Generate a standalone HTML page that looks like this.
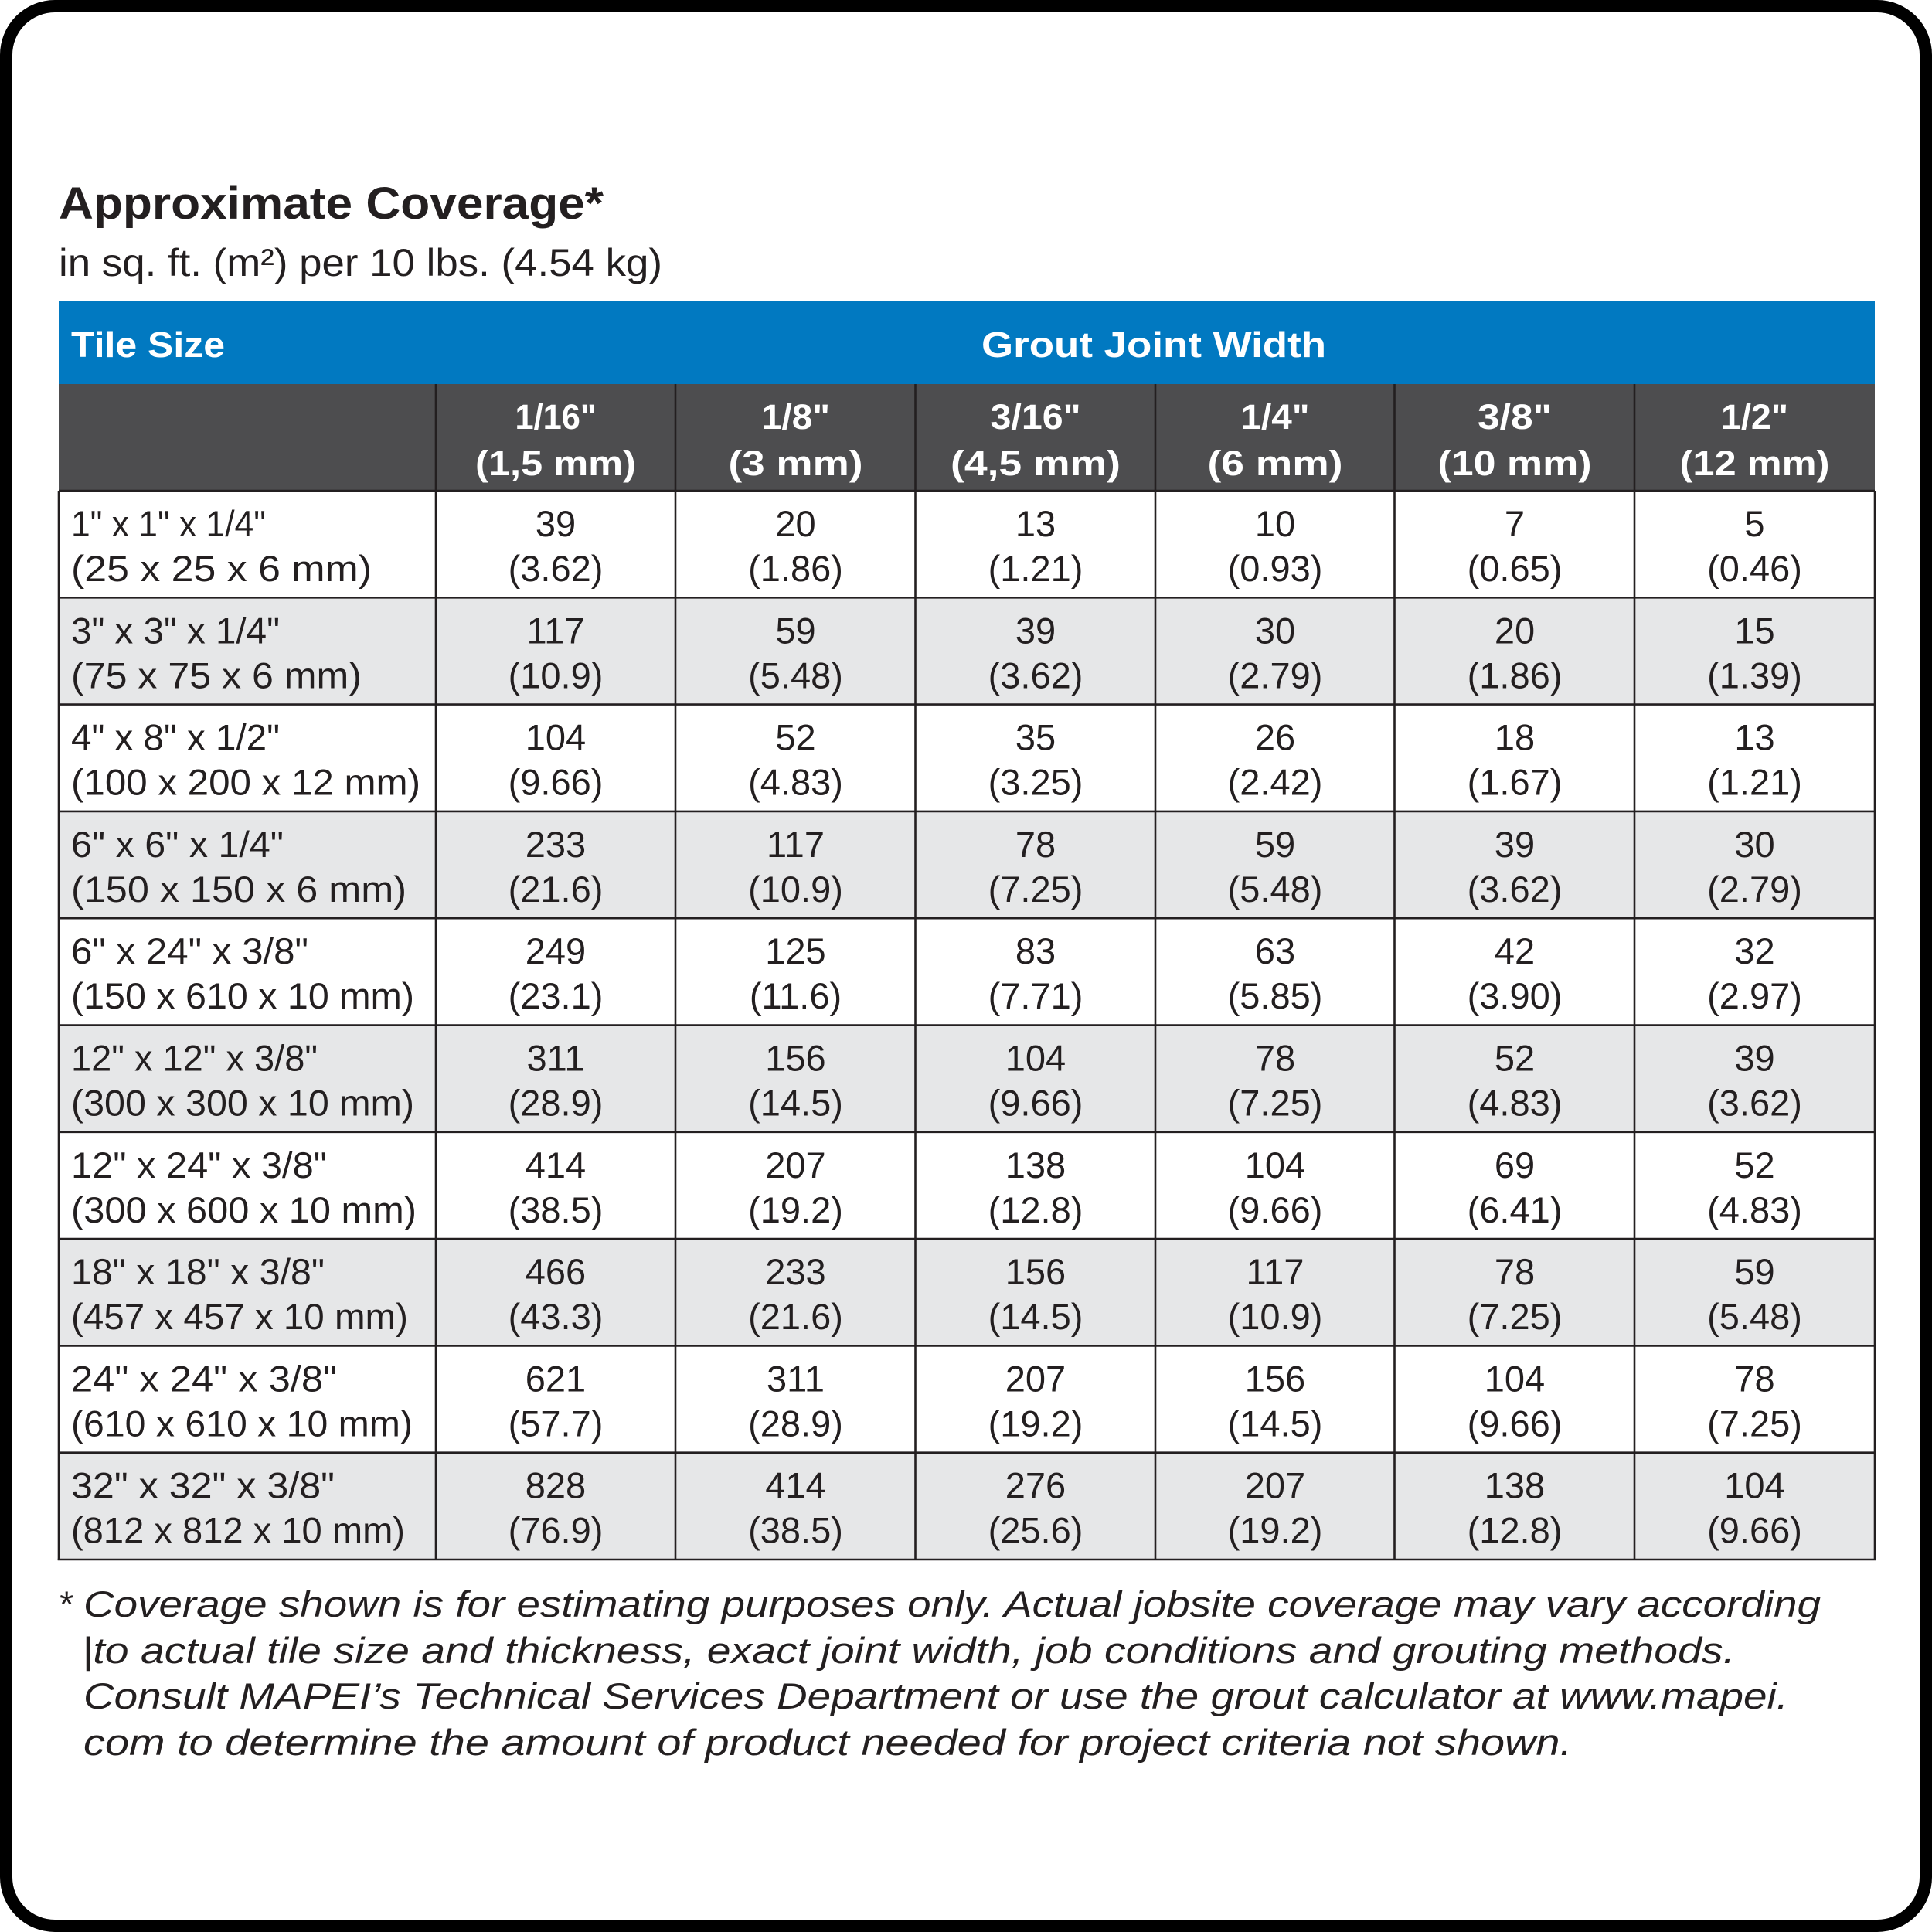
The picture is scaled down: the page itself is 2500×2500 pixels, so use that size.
<!DOCTYPE html>
<html>
<head>
<meta charset="utf-8">
<style>
html,body{margin:0;padding:0;background:#fff;}
svg{display:block;}
text{font-family:"Liberation Sans",Arial,sans-serif;fill:#231F20;}
.w{fill:#fff;font-weight:700;}
.v{font-size:47px;text-anchor:middle;}
.l{font-size:47px;}
.h{font-size:45px;text-anchor:middle;fill:#fff;font-weight:700;}
.f{font-size:47px;font-style:italic;}
</style>
</head>
<body>
<svg width="2500" height="2500" viewBox="0 0 2500 2500" xmlns="http://www.w3.org/2000/svg">
<rect x="0" y="0" width="2500" height="2500" fill="#fff"/>
<rect x="8" y="8" width="2484" height="2484" rx="63" ry="63" fill="none" stroke="#000" stroke-width="16"/>

<text x="76" y="283" style="font-size:58px;font-weight:700" textLength="705" lengthAdjust="spacingAndGlyphs">Approximate Coverage*</text>
<text x="76" y="357" style="font-size:50px" textLength="781" lengthAdjust="spacingAndGlyphs">in sq. ft. (m²) per 10 lbs. (4.54 kg)</text>

<!-- blue header -->
<rect x="76" y="390" width="2350" height="107" fill="#0179C1"/>
<text x="92" y="462" class="w" style="font-size:46px" textLength="199" lengthAdjust="spacingAndGlyphs">Tile Size</text>
<text x="1270" y="462" class="w" style="font-size:46px" textLength="446" lengthAdjust="spacingAndGlyphs">Grout Joint Width</text>

<!-- dark header -->
<rect x="76" y="497" width="2350" height="138" fill="#4D4D4F"/>
<text class="h" x="719" y="555" textLength="105" lengthAdjust="spacingAndGlyphs">1/16"</text>
<text class="h" x="719" y="615" textLength="208" lengthAdjust="spacingAndGlyphs">(1,5 mm)</text>
<text class="h" x="1029.5" y="555" textLength="89" lengthAdjust="spacingAndGlyphs">1/8"</text>
<text class="h" x="1029.5" y="615" textLength="174" lengthAdjust="spacingAndGlyphs">(3 mm)</text>
<text class="h" x="1340" y="555" textLength="117" lengthAdjust="spacingAndGlyphs">3/16"</text>
<text class="h" x="1340" y="615" textLength="220" lengthAdjust="spacingAndGlyphs">(4,5 mm)</text>
<text class="h" x="1650" y="555" textLength="89" lengthAdjust="spacingAndGlyphs">1/4"</text>
<text class="h" x="1650" y="615" textLength="175" lengthAdjust="spacingAndGlyphs">(6 mm)</text>
<text class="h" x="1960" y="555" textLength="96" lengthAdjust="spacingAndGlyphs">3/8"</text>
<text class="h" x="1960" y="615" textLength="199" lengthAdjust="spacingAndGlyphs">(10 mm)</text>
<text class="h" x="2270.5" y="555" textLength="87" lengthAdjust="spacingAndGlyphs">1/2"</text>
<text class="h" x="2270.5" y="615" textLength="194" lengthAdjust="spacingAndGlyphs">(12 mm)</text>

<!-- gray rows -->
<rect x="76" y="773.3" width="2350" height="138.3" fill="#E6E7E8"/>
<rect x="76" y="1049.9" width="2350" height="138.3" fill="#E6E7E8"/>
<rect x="76" y="1326.5" width="2350" height="138.3" fill="#E6E7E8"/>
<rect x="76" y="1603.1" width="2350" height="138.3" fill="#E6E7E8"/>
<rect x="76" y="1879.7" width="2350" height="138.3" fill="#E6E7E8"/>

<!-- grid lines -->
<g stroke="#231F20" stroke-width="2.6">
<line x1="76" y1="635" x2="2426" y2="635"/>
<line x1="76" y1="773.3" x2="2426" y2="773.3"/>
<line x1="76" y1="911.6" x2="2426" y2="911.6"/>
<line x1="76" y1="1049.9" x2="2426" y2="1049.9"/>
<line x1="76" y1="1188.2" x2="2426" y2="1188.2"/>
<line x1="76" y1="1326.5" x2="2426" y2="1326.5"/>
<line x1="76" y1="1464.8" x2="2426" y2="1464.8"/>
<line x1="76" y1="1603.1" x2="2426" y2="1603.1"/>
<line x1="76" y1="1741.4" x2="2426" y2="1741.4"/>
<line x1="76" y1="1879.7" x2="2426" y2="1879.7"/>
<line x1="74.7" y1="2018" x2="2427.3" y2="2018"/>
<line x1="76" y1="635" x2="76" y2="2018"/>
<line x1="2426" y1="635" x2="2426" y2="2018"/>
<line x1="564" y1="497" x2="564" y2="2018"/>
<line x1="874" y1="497" x2="874" y2="2018"/>
<line x1="1184.5" y1="497" x2="1184.5" y2="2018"/>
<line x1="1495" y1="497" x2="1495" y2="2018"/>
<line x1="1804.5" y1="497" x2="1804.5" y2="2018"/>
<line x1="2115" y1="497" x2="2115" y2="2018"/>
</g>

<!-- row labels -->
<text class="l" x="92" y="694" textLength="252" lengthAdjust="spacingAndGlyphs">1" x 1" x 1/4"</text>
<text class="l" x="92" y="752" textLength="389" lengthAdjust="spacingAndGlyphs">(25 x 25 x 6 mm)</text>
<text class="l" x="92" y="832.3" textLength="270" lengthAdjust="spacingAndGlyphs">3" x 3" x 1/4"</text>
<text class="l" x="92" y="890.3" textLength="376" lengthAdjust="spacingAndGlyphs">(75 x 75 x 6 mm)</text>
<text class="l" x="92" y="970.6" textLength="270" lengthAdjust="spacingAndGlyphs">4" x 8" x 1/2"</text>
<text class="l" x="92" y="1028.6" textLength="452" lengthAdjust="spacingAndGlyphs">(100 x 200 x 12 mm)</text>
<text class="l" x="92" y="1108.9" textLength="275" lengthAdjust="spacingAndGlyphs">6" x 6" x 1/4"</text>
<text class="l" x="92" y="1166.9" textLength="434" lengthAdjust="spacingAndGlyphs">(150 x 150 x 6 mm)</text>
<text class="l" x="92" y="1247.2" textLength="307" lengthAdjust="spacingAndGlyphs">6" x 24" x 3/8"</text>
<text class="l" x="92" y="1305.2" textLength="444" lengthAdjust="spacingAndGlyphs">(150 x 610 x 10 mm)</text>
<text class="l" x="92" y="1385.5" textLength="319" lengthAdjust="spacingAndGlyphs">12" x 12" x 3/8"</text>
<text class="l" x="92" y="1443.5" textLength="444" lengthAdjust="spacingAndGlyphs">(300 x 300 x 10 mm)</text>
<text class="l" x="92" y="1523.8" textLength="331" lengthAdjust="spacingAndGlyphs">12" x 24" x 3/8"</text>
<text class="l" x="92" y="1581.8" textLength="447" lengthAdjust="spacingAndGlyphs">(300 x 600 x 10 mm)</text>
<text class="l" x="92" y="1662.1" textLength="328" lengthAdjust="spacingAndGlyphs">18" x 18" x 3/8"</text>
<text class="l" x="92" y="1720.1" textLength="436" lengthAdjust="spacingAndGlyphs">(457 x 457 x 10 mm)</text>
<text class="l" x="92" y="1800.4" textLength="344" lengthAdjust="spacingAndGlyphs">24" x 24" x 3/8"</text>
<text class="l" x="92" y="1858.4" textLength="442" lengthAdjust="spacingAndGlyphs">(610 x 610 x 10 mm)</text>
<text class="l" x="92" y="1938.7" textLength="341" lengthAdjust="spacingAndGlyphs">32" x 32" x 3/8"</text>
<text class="l" x="92" y="1996.7" textLength="432" lengthAdjust="spacingAndGlyphs">(812 x 812 x 10 mm)</text>

<!-- values row 1 -->
<text class="v" x="719" y="694">39</text><text class="v" x="719" y="752">(3.62)</text>
<text class="v" x="1029.5" y="694">20</text><text class="v" x="1029.5" y="752">(1.86)</text>
<text class="v" x="1340" y="694">13</text><text class="v" x="1340" y="752">(1.21)</text>
<text class="v" x="1650" y="694">10</text><text class="v" x="1650" y="752">(0.93)</text>
<text class="v" x="1960" y="694">7</text><text class="v" x="1960" y="752">(0.65)</text>
<text class="v" x="2270.5" y="694">5</text><text class="v" x="2270.5" y="752">(0.46)</text>
<!-- row 2 -->
<text class="v" x="719" y="832.3">117</text><text class="v" x="719" y="890.3">(10.9)</text>
<text class="v" x="1029.5" y="832.3">59</text><text class="v" x="1029.5" y="890.3">(5.48)</text>
<text class="v" x="1340" y="832.3">39</text><text class="v" x="1340" y="890.3">(3.62)</text>
<text class="v" x="1650" y="832.3">30</text><text class="v" x="1650" y="890.3">(2.79)</text>
<text class="v" x="1960" y="832.3">20</text><text class="v" x="1960" y="890.3">(1.86)</text>
<text class="v" x="2270.5" y="832.3">15</text><text class="v" x="2270.5" y="890.3">(1.39)</text>
<!-- row 3 -->
<text class="v" x="719" y="970.6">104</text><text class="v" x="719" y="1028.6">(9.66)</text>
<text class="v" x="1029.5" y="970.6">52</text><text class="v" x="1029.5" y="1028.6">(4.83)</text>
<text class="v" x="1340" y="970.6">35</text><text class="v" x="1340" y="1028.6">(3.25)</text>
<text class="v" x="1650" y="970.6">26</text><text class="v" x="1650" y="1028.6">(2.42)</text>
<text class="v" x="1960" y="970.6">18</text><text class="v" x="1960" y="1028.6">(1.67)</text>
<text class="v" x="2270.5" y="970.6">13</text><text class="v" x="2270.5" y="1028.6">(1.21)</text>
<!-- row 4 -->
<text class="v" x="719" y="1108.9">233</text><text class="v" x="719" y="1166.9">(21.6)</text>
<text class="v" x="1029.5" y="1108.9">117</text><text class="v" x="1029.5" y="1166.9">(10.9)</text>
<text class="v" x="1340" y="1108.9">78</text><text class="v" x="1340" y="1166.9">(7.25)</text>
<text class="v" x="1650" y="1108.9">59</text><text class="v" x="1650" y="1166.9">(5.48)</text>
<text class="v" x="1960" y="1108.9">39</text><text class="v" x="1960" y="1166.9">(3.62)</text>
<text class="v" x="2270.5" y="1108.9">30</text><text class="v" x="2270.5" y="1166.9">(2.79)</text>
<!-- row 5 -->
<text class="v" x="719" y="1247.2">249</text><text class="v" x="719" y="1305.2">(23.1)</text>
<text class="v" x="1029.5" y="1247.2">125</text><text class="v" x="1029.5" y="1305.2">(11.6)</text>
<text class="v" x="1340" y="1247.2">83</text><text class="v" x="1340" y="1305.2">(7.71)</text>
<text class="v" x="1650" y="1247.2">63</text><text class="v" x="1650" y="1305.2">(5.85)</text>
<text class="v" x="1960" y="1247.2">42</text><text class="v" x="1960" y="1305.2">(3.90)</text>
<text class="v" x="2270.5" y="1247.2">32</text><text class="v" x="2270.5" y="1305.2">(2.97)</text>
<!-- row 6 -->
<text class="v" x="719" y="1385.5">311</text><text class="v" x="719" y="1443.5">(28.9)</text>
<text class="v" x="1029.5" y="1385.5">156</text><text class="v" x="1029.5" y="1443.5">(14.5)</text>
<text class="v" x="1340" y="1385.5">104</text><text class="v" x="1340" y="1443.5">(9.66)</text>
<text class="v" x="1650" y="1385.5">78</text><text class="v" x="1650" y="1443.5">(7.25)</text>
<text class="v" x="1960" y="1385.5">52</text><text class="v" x="1960" y="1443.5">(4.83)</text>
<text class="v" x="2270.5" y="1385.5">39</text><text class="v" x="2270.5" y="1443.5">(3.62)</text>
<!-- row 7 -->
<text class="v" x="719" y="1523.8">414</text><text class="v" x="719" y="1581.8">(38.5)</text>
<text class="v" x="1029.5" y="1523.8">207</text><text class="v" x="1029.5" y="1581.8">(19.2)</text>
<text class="v" x="1340" y="1523.8">138</text><text class="v" x="1340" y="1581.8">(12.8)</text>
<text class="v" x="1650" y="1523.8">104</text><text class="v" x="1650" y="1581.8">(9.66)</text>
<text class="v" x="1960" y="1523.8">69</text><text class="v" x="1960" y="1581.8">(6.41)</text>
<text class="v" x="2270.5" y="1523.8">52</text><text class="v" x="2270.5" y="1581.8">(4.83)</text>
<!-- row 8 -->
<text class="v" x="719" y="1662.1">466</text><text class="v" x="719" y="1720.1">(43.3)</text>
<text class="v" x="1029.5" y="1662.1">233</text><text class="v" x="1029.5" y="1720.1">(21.6)</text>
<text class="v" x="1340" y="1662.1">156</text><text class="v" x="1340" y="1720.1">(14.5)</text>
<text class="v" x="1650" y="1662.1">117</text><text class="v" x="1650" y="1720.1">(10.9)</text>
<text class="v" x="1960" y="1662.1">78</text><text class="v" x="1960" y="1720.1">(7.25)</text>
<text class="v" x="2270.5" y="1662.1">59</text><text class="v" x="2270.5" y="1720.1">(5.48)</text>
<!-- row 9 -->
<text class="v" x="719" y="1800.4">621</text><text class="v" x="719" y="1858.4">(57.7)</text>
<text class="v" x="1029.5" y="1800.4">311</text><text class="v" x="1029.5" y="1858.4">(28.9)</text>
<text class="v" x="1340" y="1800.4">207</text><text class="v" x="1340" y="1858.4">(19.2)</text>
<text class="v" x="1650" y="1800.4">156</text><text class="v" x="1650" y="1858.4">(14.5)</text>
<text class="v" x="1960" y="1800.4">104</text><text class="v" x="1960" y="1858.4">(9.66)</text>
<text class="v" x="2270.5" y="1800.4">78</text><text class="v" x="2270.5" y="1858.4">(7.25)</text>
<!-- row 10 -->
<text class="v" x="719" y="1938.7">828</text><text class="v" x="719" y="1996.7">(76.9)</text>
<text class="v" x="1029.5" y="1938.7">414</text><text class="v" x="1029.5" y="1996.7">(38.5)</text>
<text class="v" x="1340" y="1938.7">276</text><text class="v" x="1340" y="1996.7">(25.6)</text>
<text class="v" x="1650" y="1938.7">207</text><text class="v" x="1650" y="1996.7">(19.2)</text>
<text class="v" x="1960" y="1938.7">138</text><text class="v" x="1960" y="1996.7">(12.8)</text>
<text class="v" x="2270.5" y="1938.7">104</text><text class="v" x="2270.5" y="1996.7">(9.66)</text>

<!-- footnote -->
<text x="77" y="2092" style="font-size:47px">*</text>
<text class="f" x="108" y="2092" textLength="2248" lengthAdjust="spacingAndGlyphs">Coverage shown is for estimating purposes only. Actual jobsite coverage may vary according</text>
<text class="f" x="106" y="2152" textLength="2139" lengthAdjust="spacingAndGlyphs">|to actual tile size and thickness, exact joint width, job conditions and grouting methods.</text>
<text class="f" x="108" y="2211" textLength="2206" lengthAdjust="spacingAndGlyphs">Consult MAPEI’s Technical Services Department or use the grout calculator at www.mapei.</text>
<text class="f" x="108" y="2271" textLength="1926" lengthAdjust="spacingAndGlyphs">com to determine the amount of product needed for project criteria not shown.</text>
</svg>
</body>
</html>
